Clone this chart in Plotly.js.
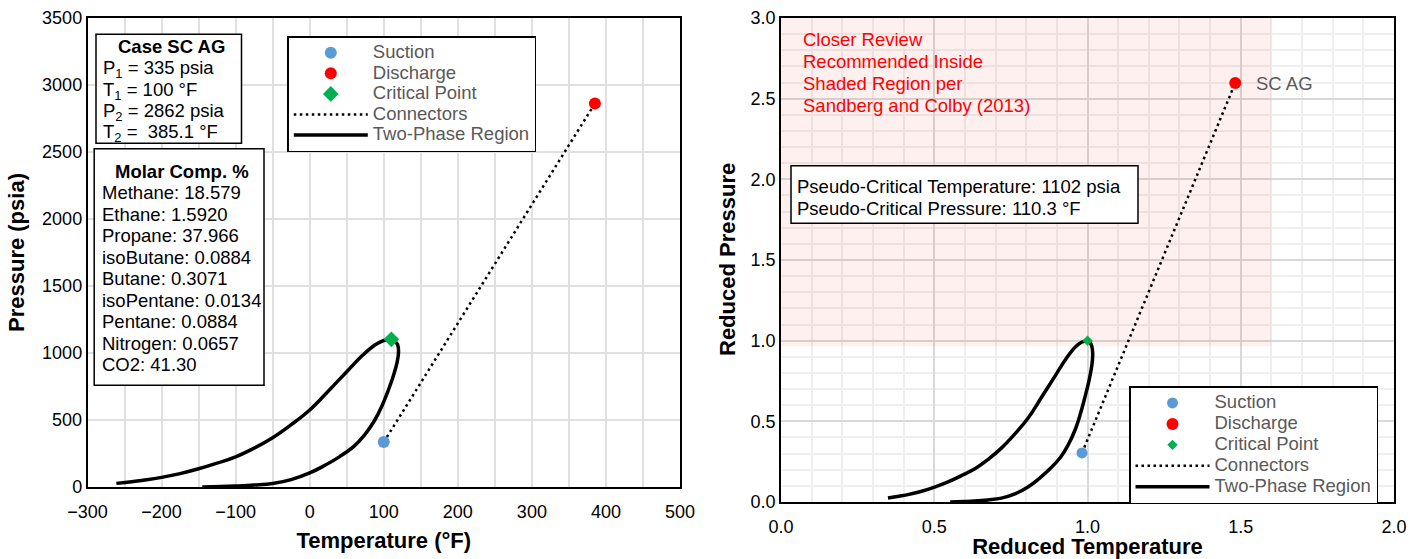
<!DOCTYPE html>
<html>
<head>
<meta charset="utf-8">
<script src="https://cdn.plot.ly/plotly-3.0.1.min.js"></script>
<style>html,body{margin:0;padding:0;background:#fff;}#chart{width:1421px;height:559px;}</style>
</head>
<body>
<div id="chart"></div>
<script>
// ---------------- DATA ----------------
// Left chart: temperature (°F) / pressure (psia)
const bubbleT = [-261, -240, -220, -200, -175, -150, -125, -100, -75, -50, -25, 0, 25, 50, 70, 88, 100, 110.3];
const bubbleP = [27, 40, 54, 72, 100, 136, 178, 225, 290, 368, 465, 575, 715, 860, 975, 1060, 1093, 1102];
const dewT = [-145, -120, -100, -75, -50, -25, 0, 20, 40, 60, 75, 88, 98, 106, 113, 118, 120, 118.5, 114, 110.3];
const dewP = [0, 3, 7, 14, 26, 55, 105, 160, 225, 305, 395, 500, 610, 720, 830, 930, 1010, 1065, 1093, 1102];
const suctionT = 100, suctionP = 335;
const dischargeT = 385.1, dischargeP = 2862;
const criticalT = 110.3, criticalP = 1102;

// Right chart: reduced temperature / reduced pressure
const bubbleTr = [0.349, 0.385, 0.421, 0.456, 0.499, 0.543, 0.587, 0.631, 0.675, 0.719, 0.763, 0.807, 0.850, 0.894, 0.929, 0.961, 0.982, 1.0];
const bubblePr = [0.025, 0.036, 0.049, 0.065, 0.091, 0.123, 0.162, 0.204, 0.263, 0.334, 0.422, 0.522, 0.649, 0.780, 0.885, 0.962, 0.992, 1.0];
const dewTr = [0.552, 0.596, 0.631, 0.675, 0.719, 0.763, 0.807, 0.842, 0.877, 0.912, 0.938, 0.961, 0.978, 0.992, 1.005, 1.014, 1.017, 1.014, 1.007, 1.0];
const dewPr = [0.0, 0.003, 0.006, 0.013, 0.024, 0.050, 0.095, 0.145, 0.204, 0.277, 0.358, 0.454, 0.554, 0.653, 0.753, 0.844, 0.917, 0.966, 0.992, 1.0];
const suctionTr = 0.982, suctionPr = 0.304;
const dischargeTr = 1.482, dischargePr = 2.597;
const criticalTr = 1.0, criticalPr = 1.0;
const shadeTr = [0, 1.6];
const shadePr = [0.965, 3.0];

// Text content
const caseTitle = 'Case SC AG';
const caseLines = ['P<sub>1</sub> = 335 psia', 'T<sub>1</sub> = 100 °F', 'P<sub>2</sub> = 2862 psia', 'T<sub>2</sub> =\u00a0 385.1 °F'];
const compTitle = 'Molar Comp. %';
const components = ['Methane', 'Ethane', 'Propane', 'isoButane', 'Butane', 'isoPentane', 'Pentane', 'Nitrogen', 'CO2'];
const molarPct = ['18.579', '1.5920', '37.966', '0.0884', '0.3071', '0.0134', '0.0884', '0.0657', '41.30'];
const reviewLines = ['Closer Review', 'Recommended Inside', 'Shaded Region per', 'Sandberg and Colby (2013)'];
const pseudoLines = ['Pseudo-Critical Temperature: 1102 psia', 'Pseudo-Critical Pressure: 110.3 °F'];
const caseLabel = 'SC AG';
const legendNames = ['Suction', 'Discharge', 'Critical Point', 'Connectors', 'Two-Phase Region'];
const axisTitles = ['Temperature (°F)', 'Pressure (psia)', 'Reduced Temperature', 'Reduced Pressure'];

// ---------------- STYLE / LAYOUT ----------------
const FONT = 'Liberation Sans, Arial, sans-serif';
const W = 1421, PT = 18, PB = 502, PH = PB - PT;
const px = x => x / W;
const py = y => (PB - y) / PH;
const BLUE = '#5b9bd5', RED = '#ff0000', GREEN = '#00b050';
const TXT = 18.5;
const LG = s => '<span style="font-size:18.5px">' + s + '</span>';

function traces(xa, ya, leg, bT, bP, dT, dP, sT, sP, dcT, dcP, cT, cP, sizes) {
  return [
    {x: bT, y: bP, xaxis: xa, yaxis: ya, mode: 'lines', name: LG(legendNames[4]), legend: leg, legendrank: 5,
     line: {color: '#000', width: 3.5, shape: 'spline', smoothing: 1.2}, hoverinfo: 'skip'},
    {x: dT, y: dP, xaxis: xa, yaxis: ya, mode: 'lines', showlegend: false, legend: leg,
     line: {color: '#000', width: 3.5, shape: 'spline', smoothing: 1.2}, hoverinfo: 'skip'},
    {x: [sT, dcT], y: [sP, dcP], xaxis: xa, yaxis: ya, mode: 'lines', name: LG(legendNames[3]), legend: leg, legendrank: 4,
     line: {color: '#000', width: 2.5, dash: '2.5px,3.5px'}, hoverinfo: 'skip'},
    {x: [sT], y: [sP], xaxis: xa, yaxis: ya, mode: 'markers', name: LG(legendNames[0]), legend: leg, legendrank: 1,
     marker: {color: BLUE, size: sizes[0], symbol: 'circle'}},
    {x: [dcT], y: [dcP], xaxis: xa, yaxis: ya, mode: 'markers', name: LG(legendNames[1]), legend: leg, legendrank: 2,
     marker: {color: RED, size: sizes[1], symbol: 'circle'}},
    {x: [cT], y: [cP], xaxis: xa, yaxis: ya, mode: 'markers', name: LG(legendNames[2]), legend: leg, legendrank: 3,
     marker: {color: GREEN, size: sizes[2], symbol: 'diamond'}}
  ];
}

const data = [].concat(
  traces('x', 'y', 'legend', bubbleT, bubbleP, dewT, dewP, suctionT, suctionP, dischargeT, dischargeP, criticalT, criticalP, [12, 12, 12]),
  traces('x2', 'y2', 'legend2', bubbleTr, bubblePr, dewTr, dewPr, suctionTr, suctionPr, dischargeTr, dischargePr, criticalTr, criticalPr, [11, 12, 8])
);

const tickFont = {family: FONT, size: 18, color: '#000'};
const titleFont = {family: FONT, size: 22, color: '#000'};

const annotations = [];
function addLine(text, x, y, opts) {
  annotations.push(Object.assign({
    text: text, xref: 'paper', yref: 'paper', x: px(x), y: py(y), xanchor: 'left', yanchor: 'middle',
    showarrow: false, font: {family: FONT, size: TXT, color: '#000'}
  }, opts || {}));
}
// Case box
addLine('<b>' + caseTitle + '</b>', 171.5, 46.7, {xanchor: 'center'});
caseLines.forEach((t, i) => addLine(t, 101, 69.3 + i * 21.2));
// Composition box
addLine('<b>' + compTitle + '</b>', 182, 171.5, {xanchor: 'center'});
components.forEach((c, i) => addLine(c + ': ' + molarPct[i], 100, 192.8 + i * 21.5));
// Red review text
reviewLines.forEach((t, i) => addLine(t, 801, 40 + i * 21.7, {font: {family: FONT, size: TXT, color: '#ff0000'}}));
// Pseudo-critical box
pseudoLines.forEach((t, i) => addLine(t, 795, 186.7 + i * 21.7));
// Case label next to discharge point
annotations.push({text: caseLabel, xref: 'x2', yref: 'y2', x: dischargeTr, y: dischargePr, xanchor: 'left', yanchor: 'middle',
  xshift: 19, showarrow: false, font: {family: FONT, size: TXT, color: '#595959'}});
// Y axis titles (drawn tight against tick labels as in the reference)
addLine('<b>' + axisTitles[1] + '</b>', 16.5, 252.5, {xanchor: 'center', textangle: -90, font: titleFont});
addLine('<b>' + axisTitles[3] + '</b>', 727, 260, {xanchor: 'center', textangle: -90, font: titleFont});

const boxLine = {color: '#000', width: 1.5};
const shapes = [
  {type: 'rect', xref: 'x2', yref: 'y2', x0: shadeTr[0], x1: shadeTr[1], y0: shadePr[0], y1: shadePr[1],
   fillcolor: 'rgba(255,0,0,0.06)', line: {width: 0}, layer: 'between'},
  {type: 'rect', xref: 'paper', yref: 'paper', x0: px(96), x1: px(241.5), y0: py(143.3), y1: py(34.3),
   fillcolor: '#fff', line: boxLine, layer: 'above'},
  {type: 'rect', xref: 'paper', yref: 'paper', x0: px(94.2), x1: px(264), y0: py(385.3), y1: py(148.7),
   fillcolor: '#fff', line: boxLine, layer: 'above'},
  {type: 'rect', xref: 'paper', yref: 'paper', x0: px(791), x1: px(1138), y0: py(223.3), y1: py(165.7),
   fillcolor: '#fff', line: boxLine, layer: 'above'}
];

const layout = {
  width: 1421, height: 559,
  margin: {l: 0, r: 0, t: PT, b: 559 - PB, pad: 0},
  paper_bgcolor: '#fff', plot_bgcolor: 'rgba(0,0,0,0)',
  font: {family: FONT, size: 18, color: '#000'},
  showlegend: true,
  xaxis: {domain: [px(87.5), px(680)], range: [-300, 500], dtick: 100, tick0: 0, anchor: 'y',
    showgrid: true, gridcolor: '#e0e0e0', gridwidth: 2, zeroline: false,
    minor: {dtick: 50, showgrid: true, gridcolor: '#e0e0e0', gridwidth: 2},
    showline: true, linecolor: '#000', linewidth: 1.5, mirror: true, ticks: '', ticklabelstandoff: 8,
    tickfont: tickFont, title: {text: '<b>' + axisTitles[0] + '</b>', font: titleFont, standoff: 11}},
  yaxis: {domain: [(PB - 487) / PH, 1], range: [0, 3500], dtick: 500, anchor: 'x',
    showgrid: true, gridcolor: '#e0e0e0', gridwidth: 2, zeroline: false,
    showline: true, linecolor: '#000', linewidth: 1.5, mirror: true, ticks: '', ticklabelstandoff: 16.5,
    tickfont: tickFont},
  xaxis2: {domain: [px(781), px(1394)], range: [0, 2], dtick: 0.5, tick0: 0, tickformat: '.1f', anchor: 'y2',
    showgrid: true, gridcolor: '#d9d9d9', gridwidth: 2, zeroline: false,
    minor: {dtick: 0.1, showgrid: true, gridcolor: '#efefef', gridwidth: 2},
    showline: true, linecolor: '#000', linewidth: 1.5, mirror: true, ticks: '', ticklabelstandoff: 8,
    tickfont: tickFont, title: {text: '<b>' + axisTitles[2] + '</b>', font: titleFont, standoff: 3}},
  yaxis2: {domain: [0, 1], range: [0, 3], dtick: 0.5, tick0: 0, tickformat: '.1f', anchor: 'x2',
    showgrid: true, gridcolor: '#d9d9d9', gridwidth: 2, zeroline: false,
    minor: {dtick: 0.1, showgrid: true, gridcolor: '#efefef', gridwidth: 2},
    showline: true, linecolor: '#000', linewidth: 1.5, mirror: true, ticks: '', ticklabelstandoff: 13.5,
    tickfont: tickFont},
  legend: {x: px(287.3), y: py(36), xanchor: 'left', yanchor: 'top', xref: 'paper', yref: 'paper',
    bgcolor: '#fff', bordercolor: '#000', borderwidth: 1.5, itemwidth: 74, tracegroupgap: 0,
    font: {family: FONT, size: 13.5, color: '#595959'}},
  legend2: {x: px(1129), y: py(386), xanchor: 'left', yanchor: 'top', xref: 'paper', yref: 'paper',
    bgcolor: '#fff', bordercolor: '#000', borderwidth: 1.5, itemwidth: 74, tracegroupgap: 0,
    font: {family: FONT, size: 13.8, color: '#595959'}},
  annotations: annotations,
  shapes: shapes
};

Plotly.newPlot('chart', data, layout, {displayModeBar: false, responsive: false});
</script>
</body>
</html>
